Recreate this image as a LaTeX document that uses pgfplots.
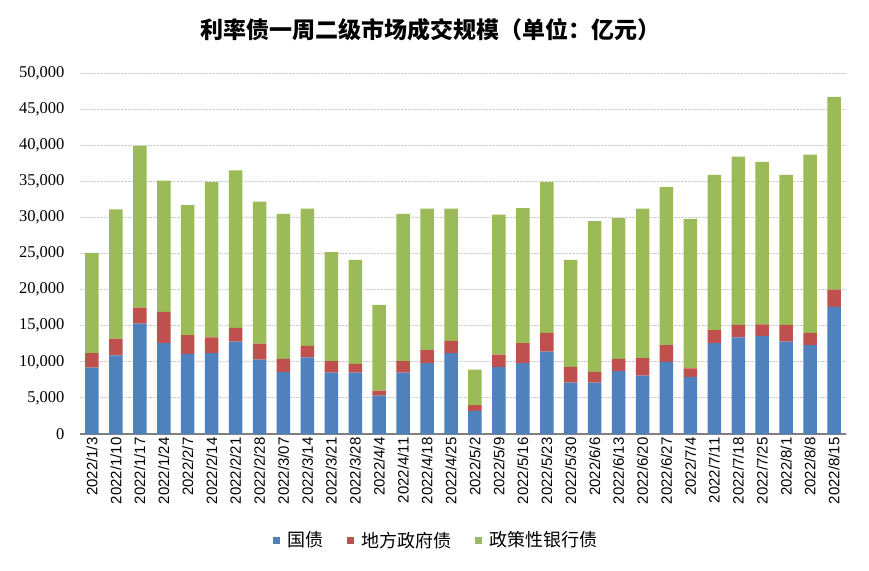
\documentclass[border=0pt]{standalone}
\usepackage{pgfplots}
\pgfplotsset{compat=1.18}
\usepackage{pgfplotstable}
\usepackage{fontspec}
\setmainfont{Liberation Serif}
\newfontfamily\sans{Liberation Sans}
\newfontfamily\cjk{Noto Sans CJK SC}

\definecolor{gzblue}{HTML}{4F81BD}
\definecolor{dfred}{HTML}{C0504D}
\definecolor{zcgreen}{HTML}{9BBB59}

% 单位：亿元
\pgfplotstableread{
x  gz     df    zc
0  9200   2000  13900
1  10900  2300  17900
2  15300  2200  22400
3  12600  4300  18200
4  11100  2600  18000
5  11200  2200  21500
6  12800  1900  21800
7  10300  2200  19700
8  8600   1800  20100
9  10600  1600  19000
10 8500   1600  15100
11 8500   1200  14400
12 5300   700   11900
13 8500   1600  20400
14 9800   1800  19600
15 11200  1700  18300
16 3200   800   4900
17 9300   1700  19400
18 9800   2800  18700
19 11400  2600  20900
20 7100   2200  14800
21 7100   1500  20900
22 8700   1700  19500
23 8100   2400  20700
24 10000  2300  21900
25 7900   1200  20700
26 12600  1800  21500
27 13400  1700  23300
28 13600  1600  22500
29 12800  2300  20800
30 12300  1700  24700
31 17600  2400  26700
}\datatable

\begin{document}
\begin{tikzpicture}
\path[use as bounding box] (0,0) rectangle (869pt,570pt);
\node[font=\cjk\bfseries\fontsize{23}{23}\selectfont] at (430pt,540pt) {利率债一周二级市场成交规模（单位：亿元）};
\begin{axis}[
    at={(80pt,136pt)}, anchor=south west,
    width=766pt, height=361pt, scale only axis,
    ybar stacked, bar width=13.5pt,
    xmin=-0.5, xmax=31.5, ymin=0, ymax=50000,
    ytick distance=5000,
    xtick=data,
    xticklabels={2022/1/3,2022/1/10,2022/1/17,2022/1/24,2022/2/7,2022/2/14,2022/2/21,2022/2/28,2022/3/07,2022/3/14,2022/3/21,2022/3/28,2022/4/4,2022/4/11,2022/4/18,2022/4/25,2022/5/2,2022/5/9,2022/5/16,2022/5/23,2022/5/30,2022/6/6,2022/6/13,2022/6/20,2022/6/27,2022/7/4,2022/7/11,2022/7/18,2022/7/25,2022/8/1,2022/8/8,2022/8/15},
    xticklabel style={rotate=90, anchor=east, font=\sans\fontsize{15}{15}\selectfont},
    yticklabel style={font=\fontsize{16.5}{16.5}\selectfont, xshift=-12pt},
    scaled y ticks=false,
    /pgf/number format/.cd, 1000 sep={,}, assume math mode=true, /pgfplots/.cd,
    major tick length=0pt,
    axis x line*=bottom, axis y line*=left,
    separate axis lines,
    x axis line style={draw=gray, line width=1.5pt, -},
    y axis line style={draw=none},
    ymajorgrids,
    major grid style={densely dotted, color=gray!40, line width=0.9pt},
    legend columns=3,
    legend style={at={(0.465,-0.294)}, anchor=center, draw=none,
        font=\cjk\fontsize{18}{18}\selectfont,
        /tikz/every odd column/.append style={column sep=5pt},
        /tikz/every even column/.append style={column sep=22pt}},
    legend image code/.code={\fill[#1] (0pt,-3.5pt) rectangle (7pt,3.5pt);},
]
\addplot[fill=gzblue, draw=none] table[x=x, y=gz] {\datatable};
\addlegendentry{国债}
\addplot[fill=dfred, draw=none] table[x=x, y=df] {\datatable};
\addlegendentry{地方政府债}
\addplot[fill=zcgreen, draw=none] table[x=x, y=zc] {\datatable};
\addlegendentry{政策性银行债}
\end{axis}
\end{tikzpicture}
\end{document}
